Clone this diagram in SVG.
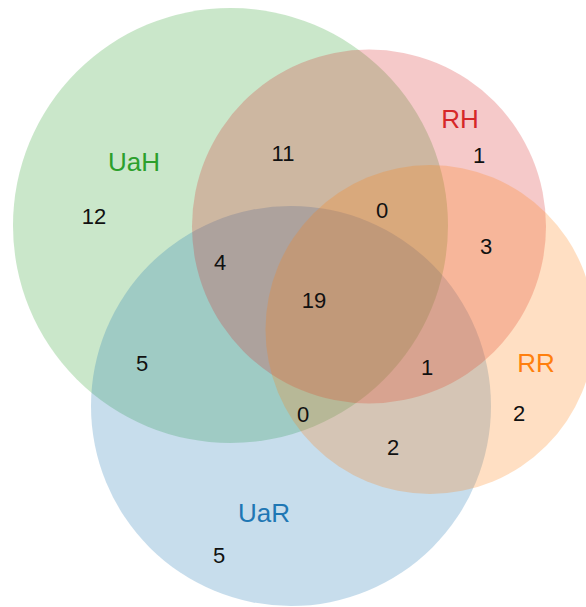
<svg xmlns="http://www.w3.org/2000/svg" width="586" height="607" viewBox="0 0 586 607">
<style>
  .set { fill-opacity: 0.25; stroke: none; }
  .lbl { font-family: "Liberation Sans", Arial, sans-serif; font-size: 26px; text-anchor: middle; }
  .num { font-family: "Liberation Sans", Arial, sans-serif; font-size: 22px; text-anchor: middle; fill: #111111; }
</style>
<rect width="586" height="607" fill="#ffffff"/>
<g id="UaH">
  <circle class="set" cx="230.5" cy="225.5" r="217.5" fill="#2ca02c"/>
</g>
<g id="UaR">
  <circle class="set" cx="291" cy="406" r="200" fill="#1f77b4"/>
</g>
<g id="RH">
  <circle class="set" cx="369" cy="226.5" r="177" fill="#d62728"/>
</g>
<g id="RR">
  <circle class="set" cx="430" cy="329.5" r="164.5" fill="#ff7f0e"/>
</g>
<g id="connectors"></g>
<g id="labels">
  <text class="lbl" x="134" y="171" fill="#2ca02c">UaH</text>
  <text class="lbl" x="460" y="128" fill="#d62728">RH</text>
  <text class="lbl" x="536" y="372" fill="#ff7f0e">RR</text>
  <text class="lbl" x="264" y="522" fill="#1f77b4">UaR</text>
</g>
<g id="counts">
  <text class="num" x="94" y="224">12</text>
  <text class="num" x="283" y="161">11</text>
  <text class="num" x="479" y="163">1</text>
  <text class="num" x="382" y="218">0</text>
  <text class="num" x="486" y="254">3</text>
  <text class="num" x="220" y="270">4</text>
  <text class="num" x="314" y="308">19</text>
  <text class="num" x="142" y="371">5</text>
  <text class="num" x="427" y="375">1</text>
  <text class="num" x="519" y="421">2</text>
  <text class="num" x="303" y="422">0</text>
  <text class="num" x="393" y="455">2</text>
  <text class="num" x="219" y="563">5</text>
</g>
</svg>
